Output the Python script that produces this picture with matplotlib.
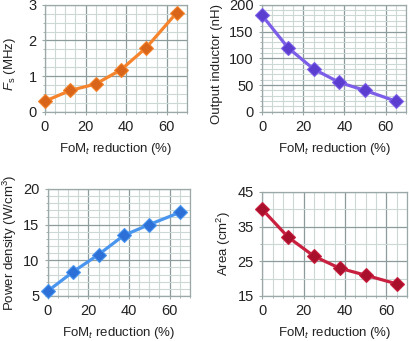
import matplotlib
matplotlib.use("Agg")
import numpy as np
import matplotlib.pyplot as plt

plt.rcParams['font.family'] = ['Liberation Sans', 'DejaVu Sans']
plt.rcParams['mathtext.fontset'] = 'custom'
plt.rcParams['mathtext.rm'] = 'Liberation Sans'
plt.rcParams['mathtext.it'] = 'Liberation Sans:italic'

# data
fom_reduction = [0, 12.5, 25, 37.5, 50, 65]
fs_mhz = [0.3, 0.6, 0.78, 1.18, 1.8, 2.78]
inductor_nh = [180, 120, 80, 55, 40, 20]
power_density = [5.7, 8.4, 10.8, 13.5, 15.0, 16.7]
area_cm2 = [40, 32, 26.5, 23, 21, 18.5]

xlabel = "FoM$_{\\mathit{t}}$ reduction (%)"

panels = [
    # (rect, y, ylabel, ylim, major, minor, line color, marker color)
    ([0.110, 0.672, 0.347, 0.314], fs_mhz, "$\\mathit{F}_{\\mathrm{s}}$ (MHz)",
     (0, 3), 1, 0.25, "#f5842c", "#d8651a"),
    ([0.641, 0.672, 0.352, 0.314], inductor_nh, "Output inductor (nH)",
     (0, 200), 50, 10, "#7d5ee8", "#5b3ed0"),
    ([0.117, 0.132, 0.347, 0.314], power_density, "Power density (W/cm$^{3}$)",
     (5, 20), 5, 1, "#4a96ef", "#2c6fd6"),
    ([0.641, 0.132, 0.354, 0.305], area_cm2, "Area (cm$^{2}$)",
     (15, 45), 10, 5, "#c8203e", "#a8102c"),
]

fig = plt.figure(figsize=(4.09, 3.41), dpi=100)

for i, (rect, y, ylab, ylim, major, minor, lc, mc) in enumerate(panels):
    ax = fig.add_axes(rect)
    ax.plot(fom_reduction, y, color=lc, lw=2.3, zorder=3, clip_on=False)
    ax.plot(fom_reduction, y, ls='none', marker='D', ms=7, mfc=mc,
            mec=lc, mew=0.8, zorder=4, clip_on=False)
    ax.set_xlim(0, 70)
    ax.set_xticks(np.arange(0, 61, 20))
    ax.set_xticks(np.arange(0, 71, 5), minor=True)
    ax.set_yticks(np.arange(ylim[0], ylim[1] + 1e-9, major))
    ax.set_yticks(np.arange(ylim[0], ylim[1] + 1e-9, minor), minor=True)
    ax.set_ylim(*ylim)
    ax.grid(which='major', color='#8c9c9c', lw=0.9, zorder=1)
    ax.grid(which='minor', color='#cbd8d6', lw=0.8, zorder=0)
    for s in ax.spines.values():
        s.set_color('#9aa8a8')
        s.set_linewidth(0.9)
    ax.tick_params(which='both', colors='#9aa8a8', labelcolor='#222222',
                   labelsize=10.5, length=2, pad=4)
    ax.tick_params(which='minor', length=1.5)
    ax.set_xlabel(xlabel, fontsize=9.5, color='#222222', labelpad=5)
    ax.set_ylabel(ylab, fontsize=9.5, color='#222222', labelpad=3)
    if i < 2:
        # top row labels sit a little below the axis centre
        ax.yaxis.set_label_coords(-0.27 if i == 1 else -0.19, 0.45)
    ax.set_axisbelow(True)

fig.savefig("out.png", dpi=100)
